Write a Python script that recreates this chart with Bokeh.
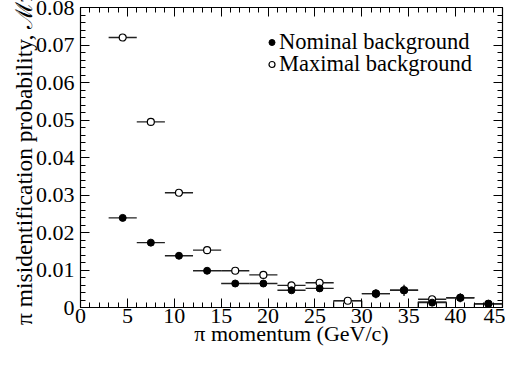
from bokeh.plotting import figure
from bokeh.models import (ColumnDataSource, LinearAxis, SingleIntervalTicker,
                          Legend, LegendItem, Range1d, CustomJSTickFormatter)
from bokeh.embed import file_html
from bokeh.resources import INLINE
import numpy as np

# ---- data ----
bin_centers = [4.5, 7.5, 10.5, 13.5, 16.5, 19.5, 22.5, 25.5, 28.5, 31.5, 34.5, 37.5, 40.5, 43.5]
bin_half = 1.5
nominal = [0.0239, 0.0173, 0.0138, 0.0098, 0.0064, 0.0064, 0.0046, 0.0051, float("nan"),
           0.0037, 0.0046, 0.0013, 0.0026, 0.0010]
nominal_err = [0.0003, 0.0003, 0.0003, 0.0003, 0.0003, 0.0003, 0.0004, 0.0008, 0.0,
               0.0012, 0.0015, 0.0005, 0.0012, 0.0004]
maximal = [0.0720, 0.0495, 0.0306, 0.0153, 0.0098, 0.0087, 0.0059, 0.0066, 0.0018,
           0.0037, 0.0046, 0.0022, 0.0026, 0.0010]
maximal_err = [0.0003, 0.0003, 0.0003, 0.0003, 0.0003, 0.0003, 0.0003, 0.0004, 0.0003,
               0.0, 0.0, 0.0004, 0.0, 0.0]
box_centers = [28.5, 37.5, 43.5]
box_tops = [0.0018, 0.0015, 0.0010]
legend_labels = ["Nominal background", "Maximal background"]

x_ticks_step = 5
y_ticks_step = 0.01

FONT = "Liberation Serif"

def make_src(vals, errs):
    c = np.array(bin_centers)
    v = np.array(vals, dtype=float)
    e = np.array(errs, dtype=float)
    return ColumnDataSource(dict(x=c, y=v, lo=c - bin_half, hi=c + bin_half,
                                 ylo=v - e, yhi=v + e))

src_nom = make_src(nominal, nominal_err)
src_max = make_src(maximal, maximal_err)
bc = np.array(box_centers)
src_box = ColumnDataSource(dict(left=bc - bin_half, right=bc + bin_half,
                                bottom=np.zeros(len(bc)), top=np.array(box_tops)))

p = figure(width=505, height=358, output_backend="svg", toolbar_location=None,
           x_range=Range1d(0, 45), y_range=Range1d(0, 0.08),
           x_axis_location=None, y_axis_location=None,
           min_border_left=80, min_border_right=3, min_border_top=7, min_border_bottom=51)
p.background_fill_color = "white"
p.border_fill_color = "white"
p.outline_line_color = "black"
p.outline_line_width = 1.2
p.xgrid.visible = False
p.ygrid.visible = False

def style_axis(ax, labels=True):
    ax.major_tick_in = 9
    ax.major_tick_out = 0
    ax.minor_tick_in = 5
    ax.minor_tick_out = 0
    ax.major_tick_line_color = "black"
    ax.minor_tick_line_color = "black"
    ax.axis_line_color = "black"
    ax.major_label_text_font = FONT
    ax.major_label_text_font_size = "22px"
    ax.major_label_text_color = "black"
    ax.axis_label_text_font = FONT
    ax.axis_label_text_font_style = "normal"
    ax.axis_label_text_font_size = "22px"
    ax.axis_label_text_color = "black"
    if not labels:
        ax.formatter = CustomJSTickFormatter(code="return ''")
        ax.major_label_standoff = 0

xt = lambda: SingleIntervalTicker(interval=x_ticks_step, num_minor_ticks=5)
yt = lambda: SingleIntervalTicker(interval=y_ticks_step, num_minor_ticks=5)

xb = LinearAxis(ticker=xt(), axis_label="π momentum (GeV/c)")
style_axis(xb)
xb.major_label_standoff = 1
xb.axis_label_standoff = -5
p.add_layout(xb, "below")

yl = LinearAxis(ticker=yt(), axis_label="π misidentification probability, ℳπ")
style_axis(yl)
yl.axis_label_text_font_size = "23.5px"
yl.major_label_standoff = 6
yl.axis_label_standoff = -4
yl.major_label_overrides = {0: "0"}
p.add_layout(yl, "left")

xa = LinearAxis(ticker=xt())
style_axis(xa, labels=False)
p.add_layout(xa, "above")

yr = LinearAxis(ticker=yt())
style_axis(yr, labels=False)
p.add_layout(yr, "right")

# boxes
p.quad(left="left", right="right", bottom="bottom", top="top", source=src_box,
       fill_color=None, line_color="#333333", line_width=1.2)

ERR = "#222222"
# maximal
p.segment(x0="lo", x1="hi", y0="y", y1="y", source=src_max, line_color=ERR, line_width=1.4)
p.segment(x0="x", x1="x", y0="ylo", y1="yhi", source=src_max, line_color=ERR, line_width=1.4)
r_max = p.scatter(x="x", y="y", source=src_max, marker="circle", size=7,
                  fill_color="white", line_color="black", line_width=1.2)
# nominal
p.segment(x0="lo", x1="hi", y0="y", y1="y", source=src_nom, line_color=ERR, line_width=1.4)
p.segment(x0="x", x1="x", y0="ylo", y1="yhi", source=src_nom, line_color=ERR, line_width=1.4)
r_nom = p.scatter(x="x", y="y", source=src_nom, marker="circle", size=7,
                  fill_color="black", line_color="black", line_width=1)

def make_legend(label, renderer, loc):
    return Legend(items=[LegendItem(label=label, renderers=[renderer])],
                  location=loc, padding=0, margin=0, spacing=0,
                  glyph_width=15, glyph_height=22, label_height=22, label_standoff=-6,
                  label_text_font=FONT, label_text_font_size="22.5px",
                  label_text_color="black",
                  border_line_color=None, background_fill_alpha=0)

p.add_layout(make_legend(legend_labels[0], r_nom, (184, 252)), "center")
p.add_layout(make_legend(legend_labels[1], r_max, (184, 230)), "center")

open("out.html", "w").write(file_html(p, INLINE))
